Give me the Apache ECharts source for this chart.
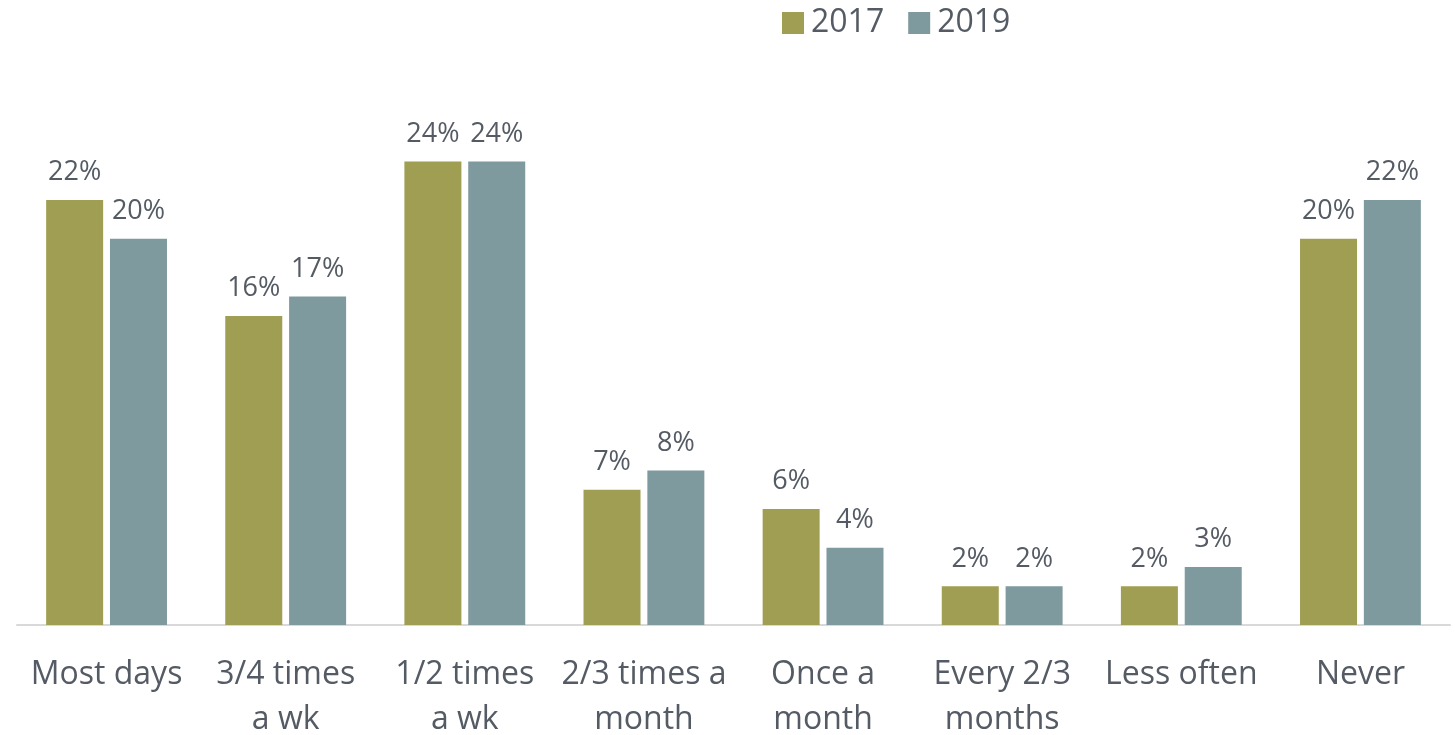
<!DOCTYPE html>
<html>
<head>
<meta charset="utf-8">
<script src="https://cdn.jsdelivr.net/npm/echarts@6/dist/echarts.min.js"></script>
<style>
  html, body { margin: 0; padding: 0; background: #fff; }
  #chart { width: 1455px; height: 735px; }
</style>
</head>
<body>
<div id="chart"></div>
<script>
// Frequency categories (line breaks as shown under the axis)
const categories = [
  'Most days',
  '3/4 times\na wk',
  '1/2 times\na wk',
  '2/3 times a\nmonth',
  'Once a\nmonth',
  'Every 2/3\nmonths',
  'Less often',
  'Never'
];

// Share of respondents (%) per year
const values2017 = [22, 16, 24, 7, 6, 2, 2, 20];
const values2019 = [20, 17, 24, 8, 4, 2, 3, 22];

const seriesNames = ['2017', '2019'];
const colors = ['#A09E52', '#7F9A9E'];
const textColor = '#555B64';
const fontFamily = '"Open Sans", Lato, sans-serif';

const chart = echarts.init(document.getElementById('chart'), null, { renderer: 'canvas' });

const makeSeries = (name, data, color) => ({
  name: name,
  type: 'bar',
  data: data,
  barWidth: 57,
  barGap: '12%',
  itemStyle: { color: color },
  label: {
    show: true,
    position: 'top',
    distance: 14,
    formatter: '{c}%',
    color: textColor,
    fontSize: 27,
    fontFamily: fontFamily
  }
});

chart.setOption({
  animation: false,
  color: colors,
  legend: {
    data: seriesNames,
    left: 777,
    top: 2,
    itemWidth: 22,
    itemHeight: 22,
    itemGap: 24,
    icon: 'rect',
    textStyle: { color: textColor, fontSize: 32, fontFamily: fontFamily, padding: [0, 0, 0, 2] }
  },
  grid: { left: 17, right: 5, top: 45.5, bottom: 110, outerBoundsMode: 'none' },
  xAxis: {
    type: 'category',
    data: categories,
    axisLine: { lineStyle: { color: '#D9D9D9', width: 2 } },
    axisTick: { show: false },
    axisLabel: {
      interval: 0,
      margin: 27,
      color: textColor,
      fontSize: 32,
      lineHeight: 45,
      fontFamily: fontFamily,
      verticalAlign: 'top'
    }
  },
  yAxis: {
    type: 'value',
    min: 0,
    max: 30,
    show: false,
    splitLine: { show: false }
  },
  series: [
    makeSeries(seriesNames[0], values2017, colors[0]),
    makeSeries(seriesNames[1], values2019, colors[1])
  ]
});
</script>
</body>
</html>
